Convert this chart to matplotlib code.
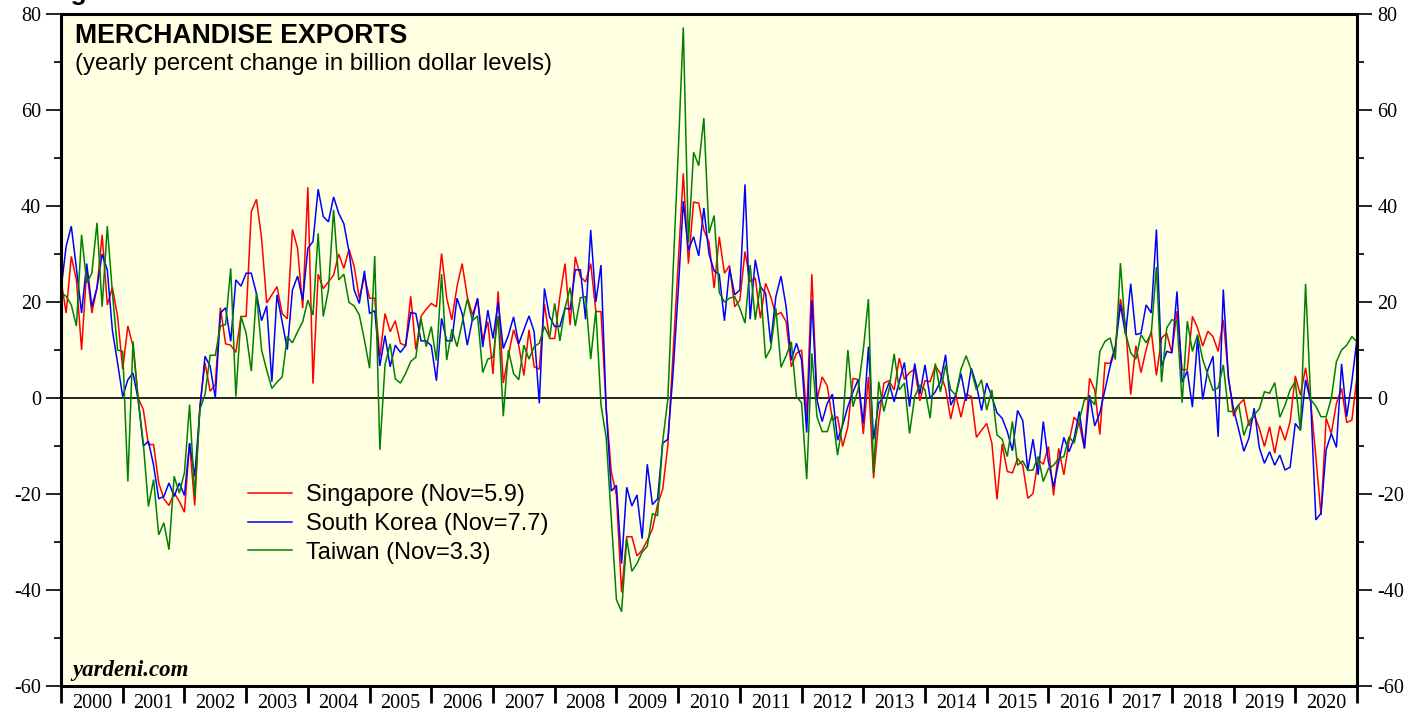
import numpy as np
import pandas as pd
import matplotlib
matplotlib.use("Agg")
import matplotlib.pyplot as plt
from matplotlib.ticker import MultipleLocator, FixedLocator, NullFormatter, FixedFormatter

# ---- data: yearly % change, monthly (month-end), Dec 1999 .. Dec 2020 ----
singapore = [
    24.6, 17.7, 29.5, 24.6, 10, 26.7, 17.7, 23, 34, 19.4, 23, 17, 6, 15, 10.8, 0,
    -2.4, -9.7, -9.7, -17.7, -21, -22.4, -19.8, -21.5, -23.8, -9.4, -22.4, -1.7, 7.3,
    1.4, 2.8, 18.8, 11.3, 11, 9.5, 17, 17, 38.8,
    41.4, 33.3, 19.8, 21.5, 23.2, 17.6, 16.5, 35.1, 31.2, 18.7, 43.9, 3, 25.8, 22.8,
    24.2, 25.6, 30, 27, 31, 27.4, 20.8, 25.3, 20.8, 20.8, 8.6, 17.6, 13.8, 16.1, 11.4,
    10.9, 21.2, 10.1, 17, 18.5, 19.7,
    19, 30.1, 20.8, 16.3, 23.2, 28, 21.1, 17.3, 20.6, 12.1, 15.9, 5, 22.2, 3.1, 9,
    14.2, 11, 4.7, 14.2, 6.5, 6, 19.6, 12.4, 12.4, 21.1, 28, 15.2, 29.4, 25.3, 24.2,
    28, 18, 18,
    -2, -15.4, -20.2, -40.5, -28.9, -28.9, -32.9, -31.7, -29.7, -27.3, -22.2, -19,
    -9.8, 9, 28, 46.8, 28, 40.8, 40.6, 35, 32.4, 22.9, 33.6, 26, 27.6,
    19, 20.4, 30.5, 24.2, 25, 16.6, 23.9, 21.1, 17.3, 17.8, 15.9, 6.5, 9.3, 10, -3.9,
    25.8, -0.4, 4.4, 2.5, -4.6, -3.9, -10.1, -6, 4.1, 3.8, -7.5, 4.4, -16.7, -4.6,
    3.1, 3.6, 1.7, 8.3, 3.9, 5.3,
    6, -0.6, 3.6, 3.4, 6.7, 5.1, 2, -4.4, 0.6, -4, 0.8, 0.3, -8.2, -6.7, -5.3, -9.4,
    -21.1, -9.6, -15.3, -15.6, -12.6, -14, -20.9, -19.9, -12.9, -13.8, -10.1, -20.3,
    -10.5, -16, -9.1, -4, -5.3, -10.5, 4.1,
    1.7, -7.6, 7.3, 7.2, 10.8, 20.6, 15.1, 0.7, 10.9, 5.3, 10.1, 13.9, 4.7, 12.5,
    13.5, 9.4, 18.1, 5.9, 5.9, 17, 14.6, 10.8, 13.9, 12.8, 9.7, 16.3, 4.5, -3.8,
    -1.4, -0.3, -5.8, -3.5, -6.3,
    -10.1, -6, -11.5, -5.8, -8.8, -4.9, 4.6, 0.6, 6.3, -0.8, -12.2, -24.4, -4.2,
    -7.4, -1.1, 2, -5.1, -4.6, 4.3,
]

south_korea = [
    22.6, 31.6, 35.8, 27, 17.7, 28, 19, 23, 30, 26.7, 14, 7.3, 0.3, 3.8, 5.2, -0.3,
    -10, -9, -14, -21, -20.5, -17.7, -20.5, -17.7, -20.3, -9.4, -16.3, -2.4, 8.7,
    6.6, 0, 17.7, 18.8, 11.8, 24.6, 23.3, 26, 26,
    21.8, 16.1, 19.2, 3.4, 21.5, 15.9, 10.1, 22.5, 25.4, 20.4, 31.2, 32.6, 43.5,
    37.8, 36.7, 41.9, 38.5, 36.3, 30.5, 22.5, 19.7, 26.5, 17.6, 18.2, 6.7, 13, 6.5,
    11, 9.5, 10.9, 17.8, 17.6, 11.9, 11.9, 10.9,
    3.6, 16.6, 11.9, 11.9, 20.8, 17.6, 11, 16.4, 20.8, 10.6, 18.3, 12.4, 20, 10.3,
    13.1, 16.9, 11.3, 14.2, 17.1, 13.8, -1.1, 22.8, 16.9, 14.9, 14.9, 18.7, 18.5,
    26.7, 26.7, 16.4, 35, 20, 27.7,
    -2, -19.4, -18.2, -34.5, -18.6, -22.5, -20.2, -29.3, -13.8, -22.2, -21, -9.4,
    -8.6, 5, 22, 41, 30.8, 33.6, 29.6, 39.6, 30, 26.5, 25.7, 16.1, 26.9,
    21.5, 22.5, 44.5, 16.4, 28.8, 23.2, 21.8, 11.4, 21.1, 25.4, 19, 7.9, 11.4, 7.9,
    -7.2, 20.4, -0.4, -4.9, -1.1, 0.8, -8.8, -5.6, -1.8, 1.3, 3.8, -5.3, 10.7, -8.6,
    -1.1, 0.3, 3.2, -0.8, 3.4, 7.4, -1.8,
    7.2, 0.8, 6.9, -0.1, 1.3, 3.4, 9, -1.5, 0.6, 5.1, -0.6, 6.2, 2.7, -2.6, 3.1, 0.3,
    -3.1, -4.2, -7, -11, -2.6, -4.7, -15, -8.6, -16, -4.9, -13.3, -18.5, -13.3,
    -8.2, -11.2, -8.4, -2.8, -10.5, 0.6,
    -5.8, -3.1, 1.7, 6.6, 10.4, 19.4, 13.2, 23.8, 13.2, 13.5, 19.4, 17.7, 35.1, 6.6,
    9.7, 9.4, 22.2, 3.3, 5.6, -1.9, 12.5, -0.3, 5.9, 8.7, -8.1, 22.6, 4, -2.4,
    -6.6, -11.1, -8.3, -2.1, -10.3,
    -13.6, -11.2, -14, -11.9, -15, -14.4, -5.3, -6.7, 3.8, -0.8, -25.4, -24, -10.8,
    -7.4, -10.3, 7.1, -3.9, 3.4, 12.4,
]

taiwan = [
    21.9, 21.2, 19.4, 15, 34, 24, 26, 36.5, 19, 35.8, 21.9, 10, 9.7, -17.4, 11.8,
    -0.3, -9.4, -22.6, -17, -28.5, -26, -31.6, -16.3, -19.8, -15.6, -1.4, -20.5,
    -2.4, 0.7, 8.9, 8.9, 15, 15.3, 27, 0.3, 17, 13.5, 5.6,
    21.9, 10, 5.8, 2, 3.3, 4.4, 12.8, 11.5, 13.8, 15.9, 20.4, 17.3, 34.3, 17, 22.5,
    39.2, 24.6, 25.8, 19.9, 19.2, 17.3, 12.1, 6.2, 29.6, -10.8, 6.9, 11.3, 4, 3.1,
    5.1, 7.6, 8.5, 16.6, 10.7, 14.9,
    7.8, 25.8, 7.9, 14.3, 10.7, 15.6, 20.6, 16.1, 17.1, 5.3, 8.1, 8.5, 17.1, -3.8,
    10, 5.1, 3.8, 11, 8.1, 10.7, 11.4, 14.9, 12.6, 19.7, 11.9, 18.7, 23, 15, 20.9,
    21.1, 8.1, 18.3, -1.5,
    -8.2, -25, -42, -44.5, -29.3, -36.1, -34.5, -32.1, -30.9, -24.1, -24.5, -9,
    -0.2, 26, 50.8, 77.2, 32.4, 51.2, 48.4, 58.3, 34.4, 38, 22, 20, 20.8,
    21.1, 18.7, 15.6, 27.7, 16.3, 23.5, 8.3, 10.3, 18.7, 6.4, 8.8, 11.7, 0.3, -1,
    -16.9, 9.3, -3.9, -7, -7, -3.5, -11.9, -5, 10, -1.8, 1.8, 10, 20.6, -15.6, 3.4,
    -2.8, 1.7, 9.2, 1.7, 3.1, -7.4,
    0.3, 2.7, 1.7, -4.2, 7.2, 1.3, 6.9, 1.7, 0.6, 6, 8.8, 5.8, 1.7, 3.8, -2.5, 1.7,
    -7.7, -8.6, -12.2, -4.9, -14, -13.1, -15.1, -15, -12.2, -17.4, -14.7, -14,
    -12.6, -12.2, -8.1, -9.4, -4.6, -0.4, -0.1,
    -1.4, 9.7, 11.8, 12.5, 8, 28.1, 13.5, 9.4, 8.1, 13.2, 11.5, 13.5, 27.3, 3.3,
    14.6, 16.3, 16, -1, 16, 9.7, 13.2, 8, 4.9, 1.6, 2.1, 6.9, -2.8, -2.8, -1.4,
    -7.8, -4.9, -3.5, -2.3,
    1.3, 1, 3.2, -4, -1.5, 1.7, 3.4, -6.8, 23.8, -0.3, -1.7, -3.9, -3.9, -0.1, 7.6,
    10, 11, 12.8, 11.7,
]

series_labels = ["Singapore (Nov=5.9)", "South Korea (Nov=7.7)", "Taiwan (Nov=3.3)"]
series_colors = ["#FF0000", "#0000FF", "#008000"]
years = list(range(2000, 2021))
title = "MERCHANDISE EXPORTS"
subtitle = "(yearly percent change in billion dollar levels)"

# month-end dates -> fractional years
dates = pd.date_range("1999-12-31", periods=len(singapore), freq="ME")
xt = np.asarray(dates.year + dates.month / 12.0, dtype=float)

W, H = 1427, 719
fig = plt.figure(figsize=(W / 100, H / 100), dpi=100)
fig.patch.set_facecolor("white")

def fx(px):
    return px / W

def fy(py):
    return 1 - py / H

L, R, T, B = 61, 1357, 14, 686
ax = fig.add_axes([fx(L), fy(B), (R - L) / W, (B - T) / H])
ax.set_facecolor("#FFFFE2")

for vals, lab, col in zip([singapore, south_korea, taiwan], series_labels, series_colors):
    ax.plot(xt, vals, color=col, lw=1.1, label=lab, solid_joinstyle="miter")

ax.axhline(0, color="black", lw=1.2, zorder=1)

ax.set_xlim(2000, 2021)
ax.set_ylim(-60, 80)

for s in ax.spines.values():
    s.set_linewidth(2.2)
    s.set_color("black")

serif = "Liberation Serif"
sans = "Liberation Sans"

# y axis both sides
ax.yaxis.set_major_locator(MultipleLocator(20))
ax.yaxis.set_minor_locator(MultipleLocator(10))
ax.yaxis.set_major_formatter(matplotlib.ticker.FuncFormatter(lambda v, p: f"{int(v)}"))
ax.tick_params(axis="y", which="major", direction="out", length=11, width=1.2,
               left=True, right=True, labelleft=True, labelright=True, pad=3.5,
               labelsize=14.5)
ax.tick_params(axis="y", which="minor", direction="out", length=5, width=1.2,
               left=True, right=True)

# x axis: ticks at year boundaries, labels centred in each year
ax.xaxis.set_major_locator(FixedLocator(years + [2021]))
ax.xaxis.set_major_formatter(NullFormatter())
ax.xaxis.set_minor_locator(FixedLocator([y + 0.5 for y in years]))
ax.xaxis.set_minor_formatter(FixedFormatter([str(y) for y in years]))
ax.tick_params(axis="x", which="major", direction="out", length=12, width=2.0,
               top=False, bottom=True)
ax.tick_params(axis="x", which="minor", length=0, pad=6, labelsize=14.5)
for lbl in ax.get_xticklabels(minor=True):
    lbl.set_family(serif)
for lbl in ax.get_yticklabels():
    lbl.set_family(serif)
for lbl in ax.yaxis.get_ticklabels(which="both"):
    lbl.set_family(serif)
for t in ax.yaxis.get_major_ticks():
    t.label2.set_family(serif)

# title / subtitle / source
fig.text(fx(75), fy(43), title, fontsize=19.2, fontweight="bold", family=sans,
         ha="left", va="baseline")
fig.text(fx(75), fy(70), subtitle, fontsize=17.2, family=sans, ha="left", va="baseline")
fig.text(fx(72), fy(676), "yardeni.com", fontsize=16.5, fontweight="bold",
         fontstyle="italic", family=serif, ha="left", va="baseline")
fig.text(fx(47), fy(0), "Figure", fontsize=19, fontweight="bold", family=sans,
         ha="left", va="baseline")

leg = ax.legend(loc="upper left", bbox_to_anchor=(fx(248), fy(484)),
                bbox_transform=fig.transFigure, frameon=False,
                prop={"family": sans, "size": 17}, handlelength=1.85,
                handletextpad=0.6, labelspacing=0.29, borderaxespad=0, borderpad=0)
for h in leg.get_lines():
    h.set_linewidth(1.1)

fig.savefig("out.png", dpi=100, facecolor="white")
